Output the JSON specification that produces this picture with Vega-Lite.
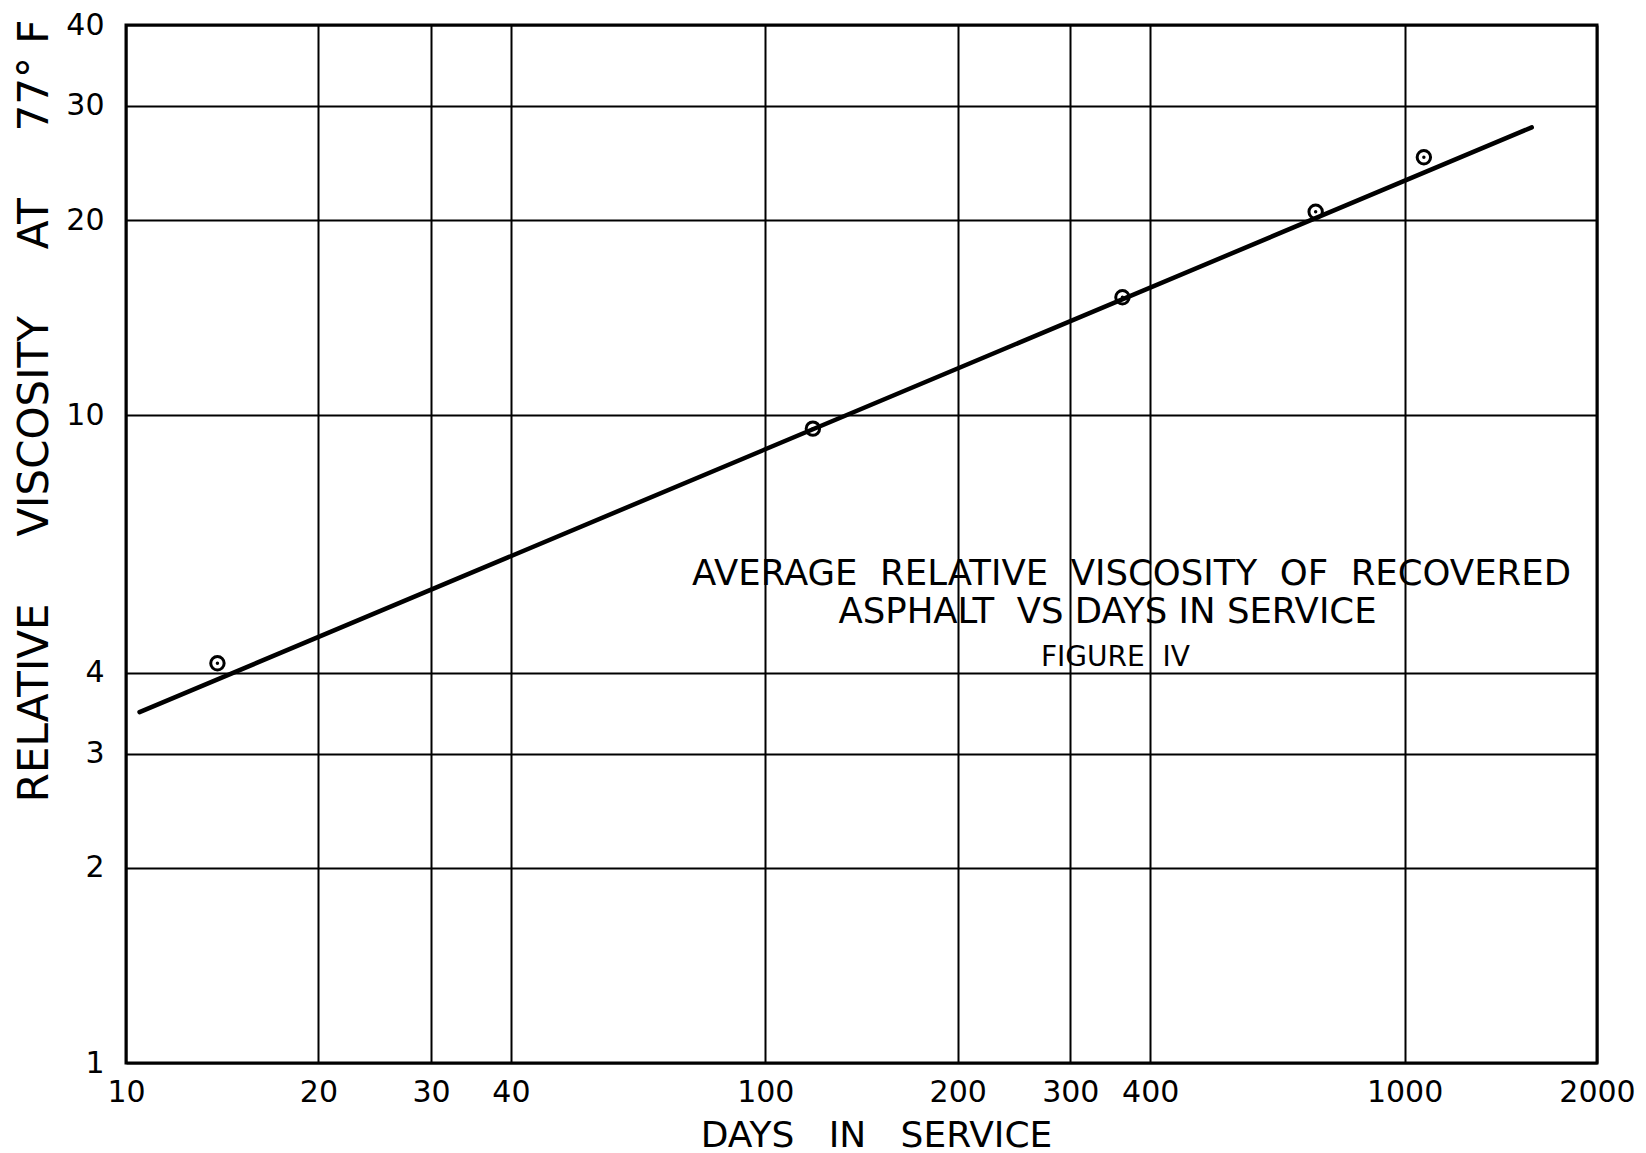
{
  "$schema": "https://vega.github.io/schema/vega-lite/v6.json",
  "width": 1471,
  "height": 1038,
  "autosize": {"type": "none"},
  "padding": {"left": 126, "top": 25, "right": 49, "bottom": 90},
  "background": "white",
  "config": {
    "view": {"stroke": "black", "strokeWidth": 3},
    "font": "DejaVu Sans"
  },
  "datasets": {
    "points": [
      {"days": 13.9, "viscosity": 4.14},
      {"days": 118.7, "viscosity": 9.53},
      {"days": 362, "viscosity": 15.2},
      {"days": 726, "viscosity": 20.6},
      {"days": 1072, "viscosity": 25.0}
    ],
    "fit": [
      {"days": 10.5, "viscosity": 3.48},
      {"days": 1581, "viscosity": 27.8}
    ],
    "notes": [
      {"days": 374, "viscosity": 5.685, "label": "AVERAGE\u00a0\u00a0RELATIVE\u00a0\u00a0VISCOSITY\u00a0\u00a0OF\u00a0\u00a0RECOVERED", "size": 35.5},
      {"days": 343, "viscosity": 4.966, "label": "ASPHALT\u00a0\u00a0VS DAYS IN SERVICE", "size": 35.5},
      {"days": 353, "viscosity": 4.225, "label": "FIGURE\u00a0\u00a0IV", "size": 28}
    ]
  },
  "encoding": {
    "x": {
      "field": "days",
      "type": "quantitative",
      "scale": {"type": "log", "domain": [10, 2000], "nice": false, "zero": false},
      "axis": {
        "values": [10, 20, 30, 40, 100, 200, 300, 400, 1000, 2000],
        "format": "d",
        "domain": false,
        "ticks": false,
        "grid": true,
        "gridColor": "black",
        "gridWidth": 2,
        "gridOpacity": 1,
        "labelFont": "DejaVu Sans",
        "labelFontSize": 30,
        "labelColor": "black",
        "labelPadding": 14,
        "labelFlush": false,
        "title": "DAYS\u00a0\u00a0\u00a0IN\u00a0\u00a0\u00a0SERVICE",
        "titleFont": "DejaVu Sans",
        "titleFontSize": 36,
        "titleFontWeight": "normal",
        "titleColor": "black",
        "titleBaseline": "alphabetic",
        "titleAlign": "center",
        "titleX": 750,
        "titleY": 83
      }
    },
    "y": {
      "field": "viscosity",
      "type": "quantitative",
      "scale": {"type": "log", "domain": [1, 40], "nice": false, "zero": false},
      "axis": {
        "values": [1, 2, 3, 4, 10, 20, 30, 40],
        "format": "d",
        "domain": false,
        "ticks": false,
        "grid": true,
        "gridColor": "black",
        "gridWidth": 2,
        "gridOpacity": 1,
        "labelFont": "DejaVu Sans",
        "labelFontSize": 30,
        "labelColor": "black",
        "labelPadding": 22,
        "labelFlush": false,
        "title": "RELATIVE\u00a0\u00a0\u00a0\u00a0\u00a0VISCOSITY\u00a0\u00a0\u00a0\u00a0\u00a0AT\u00a0\u00a0\u00a0\u00a0\u00a077\u00b0 F",
        "titleFont": "DejaVu Sans",
        "titleFontSize": 42,
        "titleFontWeight": "normal",
        "titleColor": "black",
        "titleAnchor": "end",
        "titleBaseline": "alphabetic",
        "titleX": -79,
        "titleY": -6
      }
    }
  },
  "layer": [
    {
      "data": {"name": "fit"},
      "mark": {"type": "line", "color": "black", "strokeWidth": 4.5, "strokeCap": "round"}
    },
    {
      "data": {"name": "points"},
      "mark": {"type": "point", "shape": "circle", "filled": false, "color": "black", "strokeWidth": 3, "size": 180, "opacity": 1}
    },
    {
      "data": {"name": "points"},
      "mark": {"type": "point", "shape": "circle", "filled": true, "color": "black", "size": 12, "opacity": 1}
    },
    {
      "data": {"name": "notes"},
      "mark": {"type": "text", "color": "black", "font": "DejaVu Sans", "baseline": "middle", "align": "center"},
      "encoding": {
        "text": {"field": "label"},
        "size": {"field": "size", "type": "quantitative", "scale": null}
      }
    }
  ]
}
